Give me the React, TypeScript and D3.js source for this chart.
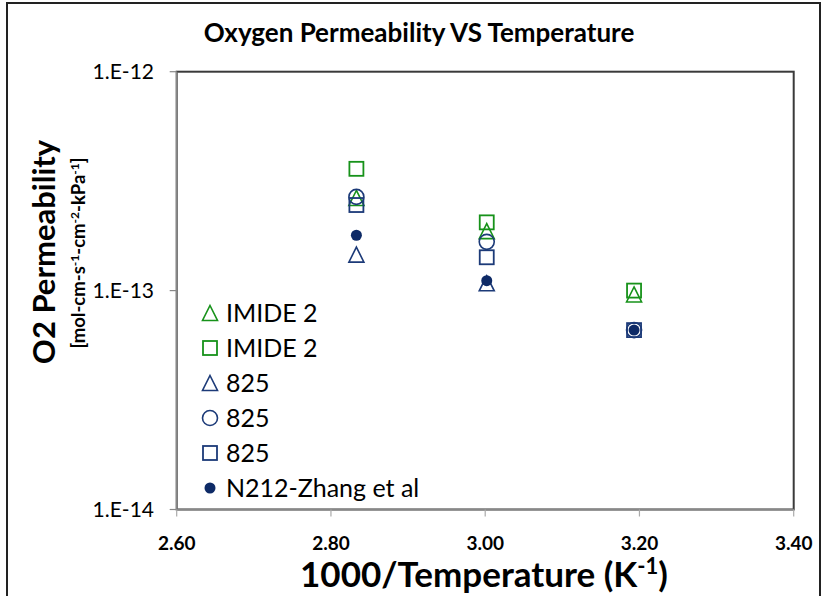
import React from "react";
import * as d3 from "d3";

const W = 825;
const H = 596;

// 1000/T positions of the three measurement temperatures
const xTemps = [2.833, 3.002, 3.193];

const imideTriangle = [2.65e-13, 1.87e-13, 9.6e-14];
const imideSquare = [3.6e-13, 2.05e-13, 1.0e-13];
const n825Triangle = [1.46e-13, 1.08e-13];
const n825Circle = [2.68e-13, 1.67e-13, 6.6e-14];
const n825Square = [2.46e-13, 1.42e-13, 6.6e-14];
const n212Zhang = [1.79e-13, 1.11e-13, 6.6e-14];

const xTicks = [2.6, 2.8, 3.0, 3.2, 3.4];
const yTicks = [1e-14, 1e-13, 1e-12];
const yTickLabels = ["1.E-14", "1.E-13", "1.E-12"];

const GREEN = "#17921a";
const NAVY = "#1c3a78";
const DOT = "#0e2a66";

type Shape = "triangle" | "square" | "circle" | "dot";

const series: { name: string; shape: Shape; color: string; values: number[] }[] = [
  { name: "IMIDE 2", shape: "triangle", color: GREEN, values: imideTriangle },
  { name: "IMIDE 2", shape: "square", color: GREEN, values: imideSquare },
  { name: "825", shape: "triangle", color: NAVY, values: n825Triangle },
  { name: "825", shape: "circle", color: NAVY, values: n825Circle },
  { name: "825", shape: "square", color: NAVY, values: n825Square },
  { name: "N212-Zhang et al", shape: "dot", color: DOT, values: n212Zhang },
];

const FONT = "Lato, 'Open Sans', sans-serif";

function Marker({ shape, color, x, y }: { shape: Shape; color: string; x: number; y: number }) {
  const s = 14;
  if (shape === "square")
    return <rect x={x - s / 2} y={y - s / 2} width={s} height={s} fill="none" stroke={color} strokeWidth={1.8} />;
  if (shape === "circle")
    return <circle cx={x} cy={y} r={s / 2 + 0.5} fill="none" stroke={color} strokeWidth={1.6} />;
  if (shape === "dot") return <circle cx={x} cy={y} r={5.5} fill={color} />;
  const h = s + 1;
  const p = `M${x},${y - h / 2}L${x + h / 2},${y + h / 2}L${x - h / 2},${y + h / 2}Z`;
  return <path d={p} fill="none" stroke={color} strokeWidth={1.6} strokeLinejoin="miter" />;
}

export default function App() {
  const left = 176.7;
  const right = 793.7;
  const top = 71.7;
  const bottom = 509.5;

  const x = d3.scaleLinear().domain([2.6, 3.4]).range([left, right]);
  const y = d3.scaleLog().domain([1e-14, 1e-12]).range([bottom, top]);

  const legendY0 = 313;
  const legendStep = 35;

  return (
    <svg width={W} height={H} style={{ position: "absolute", left: 0, top: 0, background: "#fff" }}>
      <rect x={0} y={0} width={W} height={H} fill="#fff" />
      {/* outer chart frame */}
      <rect x={7} y={3} width={813} height={610} fill="none" stroke="#222" strokeWidth={2} />

      <text x={419} y={42} textAnchor="middle" fontFamily={FONT} fontWeight={700} fontSize={26}>
        Oxygen Permeability VS Temperature
      </text>

      {/* plot area border */}
      <rect x={left} y={top} width={right - left} height={bottom - top} fill="none" stroke="#3a3a3a" strokeWidth={2} />
      {/* axes */}
      <line x1={left} x2={left} y1={top} y2={bottom} stroke="#888" strokeWidth={1.5} />
      <line x1={left} x2={right} y1={bottom} y2={bottom} stroke="#888" strokeWidth={1.5} />

      {yTicks.map((t, i) => (
        <g key={"yt" + i}>
          <line x1={left - 7} x2={left} y1={y(t)} y2={y(t)} stroke="#888" strokeWidth={1.2} />
          <text x={154} y={y(t)} dy="0.35em" textAnchor="end" fontFamily={FONT} fontSize={21}>
            {yTickLabels[i]}
          </text>
        </g>
      ))}
      {xTicks.map((t, i) => (
        <g key={"xt" + i}>
          <line x1={x(t)} x2={x(t)} y1={bottom} y2={bottom + 7} stroke="#aaa" strokeWidth={1.2} />
          <text x={x(t)} y={543} dy="0.35em" textAnchor="middle" fontFamily={FONT} fontWeight={700} fontSize={19}>
            {t.toFixed(2)}
          </text>
        </g>
      ))}

      <text x={484} y={587} textAnchor="middle" fontFamily={FONT} fontWeight={700} fontSize={35}>
        1000/Temperature (K<tspan dy={-13} fontSize={22}>-1</tspan><tspan dy={13}>)</tspan>
      </text>

      <g transform="translate(55,252) rotate(-90)">
        <text x={0} y={0} textAnchor="middle" fontFamily={FONT} fontWeight={700} fontSize={31}>
          O2 Permeability
        </text>
      </g>
      <g transform="translate(85,253) rotate(-90)">
        <text x={0} y={0} textAnchor="middle" fontFamily={FONT} fontWeight={700} fontSize={18.5}>
          [mol-cm-s<tspan dy={-6} fontSize={12}>-1</tspan>
          <tspan dy={6}>-cm</tspan>
          <tspan dy={-6} fontSize={12}>-2</tspan>
          <tspan dy={6}>-kPa</tspan>
          <tspan dy={-6} fontSize={12}>-1</tspan>
          <tspan dy={6}>]</tspan>
        </text>
      </g>

      {series.map((s, si) =>
        s.values.map((v, i) => <Marker key={si + "-" + i} shape={s.shape} color={s.color} x={x(xTemps[i])} y={y(v)} />)
      )}

      {series.map((s, si) => (
        <g key={"lg" + si}>
          <Marker shape={s.shape} color={s.color} x={210} y={legendY0 + si * legendStep} />
          <text x={226} y={legendY0 + si * legendStep} dy="0.36em" fontFamily={FONT} fontSize={25}>
            {s.name}
          </text>
        </g>
      ))}
    </svg>
  );
}
